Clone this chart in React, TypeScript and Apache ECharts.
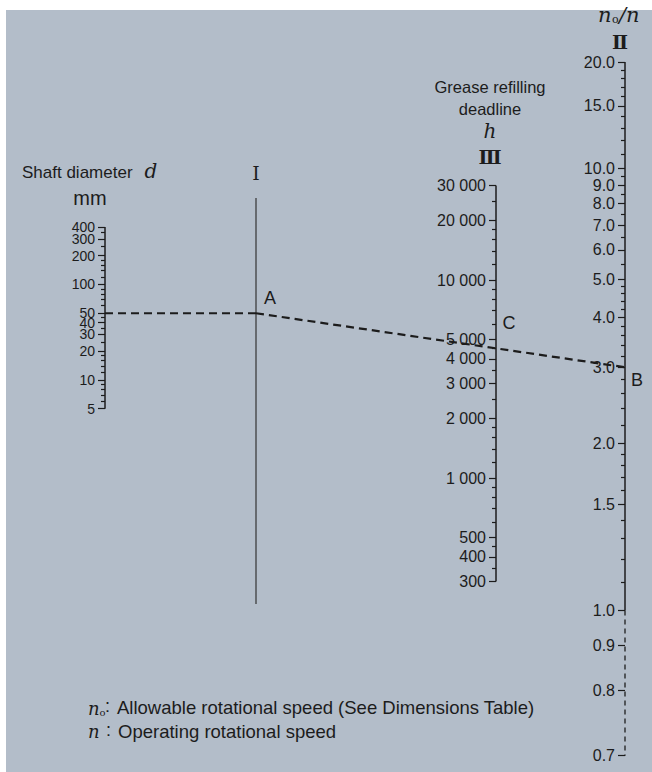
import React, { useEffect, useRef } from "react";
import * as echarts from "echarts";

// ---- data ----
const diameterMajor = [400, 300, 200, 100, 50, 40, 30, 20, 10, 5];
const diameterMinor = [350, 250, 180, 160, 140, 120, 90, 80, 70, 60, 45, 35, 25, 18, 16, 14, 12, 9, 8, 7, 6];
const hoursMajor = [30000, 20000, 10000, 5000, 4000, 3000, 2000, 1000, 500, 400, 300];
const hoursMinor = [25000, 18000, 16000, 14000, 12000, 9000, 8000, 7000, 6000, 4500, 3500, 2500, 1800, 1600, 1400, 1200, 900, 800, 700, 600, 450, 350];
const ratioMajor = [20, 15, 10, 9, 8, 7, 6, 5, 4, 3, 2, 1.5, 1, 0.9, 0.8, 0.7];
const ratioMinor = [19, 18, 17, 16, 14, 13, 12, 11, 9.5, 8.5, 7.5, 6.5, 5.5, 4.8, 4.6, 4.4, 4.2, 3.8, 3.6, 3.4, 3.2, 2.8, 2.6, 2.4, 2.2, 1.9, 1.8, 1.7, 1.6, 1.4, 1.3, 1.2, 1.1];
const ratioSolid = [20, 1];
const ratioDashed = [1, 0.7];
const exampleDiameter = 50;
const exampleRatio = 3.0;

// ---- scale transforms (nomograph scales) ----
const tD = (v: number) => Math.log10(v);
const tH = (v: number) => Math.log10(v);
const tR = (v: number) => Math.log10(v - 0.52);

// ---- layout ----
const GRID_LEFT = 105;
const GRID_TOP = 40;
const GRID_W = 520;
const GRID_H = 720;
const X_D = 0;
const X_I = 151;
const X_H = 391;
const X_R = 520;
const INK = "#1c1c1c";
const SANS = "Liberation Sans, Arial, sans-serif";
const MATH = "DejaVu Serif, Liberation Serif, serif";
const ROMAN = "DejaVu Serif, Liberation Serif, serif";

function range(tRef: number, yRef: number, ppu: number) {
  const max = tRef + (yRef - GRID_TOP) / ppu;
  return { max, min: max - GRID_H / ppu };
}
const rD = range(tD(400), 227, 95.5);
const rH = range(tH(10000), 280, 198);
const rR = range(tR(20), 62, 341);

const fmtThousands = (v: number) => String(v).replace(/\B(?=(\d{3})+(?!\d))/g, " ");
const fmtRatio = (v: number) => v.toFixed(1);

// one scale = major-tick axis, minor-tick axis, and two label axes (alternate labels,
// so that the library's min/max label overlap fix never drops a label)
function scaleAxes(r: { min: number; max: number }, offset: number, majors: number[], minors: number[], t: (v: number) => number, fmt: (v: number) => string, fontSize: number) {
  const base = {
    type: "value",
    gridIndex: 0,
    position: "left",
    offset,
    min: r.min,
    max: r.max,
    axisLine: { show: false },
    splitLine: { show: false },
  };
  const labelAxis = (vals: number[]) => {
    const map = new Map<string, string>();
    vals.forEach((v) => map.set(t(v).toFixed(5), fmt(v)));
    return {
      ...base,
      axisTick: { show: false },
      axisLabel: {
        show: true,
        customValues: vals.map(t),
        hideOverlap: false,
        margin: 10,
        color: INK,
        fontFamily: SANS,
        fontSize,
        lineHeight: Math.round(fontSize * 0.8),
        formatter: (val: number) => map.get(Number(val).toFixed(5)) ?? "",
      },
    };
  };
  return [
    { ...base, axisTick: { show: true, length: 7, customValues: majors.map(t), lineStyle: { color: INK, width: 1.2 } }, axisLabel: { show: false } },
    { ...base, axisTick: { show: true, length: 4, customValues: minors.map(t), lineStyle: { color: INK, width: 1.2 } }, axisLabel: { show: false } },
    labelAxis(majors.filter((_, i) => i % 2 === 0)),
    labelAxis(majors.filter((_, i) => i % 2 === 1)),
  ];
}

function lineSeries(yAxisIndex: number, data: number[][], dashed?: number[] | null, width = 1.5) {
  return {
    type: "line",
    xAxisIndex: 0,
    yAxisIndex,
    data,
    symbol: "none",
    silent: true,
    animation: false,
    lineStyle: { color: INK, width, type: dashed || "solid" },
  };
}

const Y_D = 0;
const Y_H = 4;
const Y_R = 8;

export default function App() {
  const ref = useRef<HTMLDivElement>(null);
  useEffect(() => {
    const chart = echarts.init(ref.current!, null, { renderer: "svg" });
    const baseSeries: any[] = [
      lineSeries(Y_D, [[X_D, tD(diameterMajor[0])], [X_D, tD(diameterMajor[diameterMajor.length - 1])]]),
      lineSeries(Y_H, [[X_H, tH(hoursMajor[0])], [X_H, tH(hoursMajor[hoursMajor.length - 1])]]),
      lineSeries(Y_R, ratioSolid.map((v) => [X_R, tR(v)])),
      lineSeries(Y_R, ratioDashed.map((v) => [X_R, tR(v)]), [5, 4], 1.3),
      lineSeries(Y_D, [[X_D, tD(exampleDiameter)], [X_I, tD(exampleDiameter)]], [8, 5], 2.2),
    ];
    const option: any = {
      animation: false,
      backgroundColor: "transparent",
      grid: { left: GRID_LEFT, top: GRID_TOP, width: GRID_W, height: GRID_H, containLabel: false },
      xAxis: { type: "value", min: 0, max: GRID_W, show: false },
      yAxis: [
        ...scaleAxes(rD, 0, diameterMajor, diameterMinor, tD, fmtThousands, 14),
        ...scaleAxes(rH, -X_H, hoursMajor, hoursMinor, tH, fmtThousands, 16),
        ...scaleAxes(rR, -X_R, ratioMajor, ratioMinor, tR, fmtRatio, 16),
      ],
      series: baseSeries,
    };
    chart.setOption(option);

    const A = chart.convertToPixel({ xAxisIndex: 0, yAxisIndex: Y_D }, [X_I, tD(exampleDiameter)]) as number[];
    const B = chart.convertToPixel({ xAxisIndex: 0, yAxisIndex: Y_R }, [X_R, tR(exampleRatio)]) as number[];
    const aInR = (chart.convertFromPixel({ xAxisIndex: 0, yAxisIndex: Y_R }, A) as number[])[1];
    const hx = (chart.convertToPixel({ xAxisIndex: 0, yAxisIndex: Y_H }, [X_H, tH(1000)]) as number[])[0];
    const cy = A[1] + ((B[1] - A[1]) * (hx - A[0])) / (B[0] - A[0]);
    const ix = A[0];

    const txt = (x: number, y: number, text: string, extra: any = {}) => ({
      type: "text",
      x,
      y,
      silent: true,
      style: { text, fill: INK, font: `15px ${SANS}`, align: "center", verticalAlign: "middle", ...extra },
    });

    chart.setOption({
      series: [
        ...baseSeries,
        lineSeries(Y_R, [[X_I, aInR], [X_R, tR(exampleRatio)]], [8, 5], 2.2),
      ],
      graphic: [
        { type: "line", silent: true, shape: { x1: ix, y1: 198, x2: ix, y2: 604 }, style: { stroke: "#333", lineWidth: 1.2 } },
        txt(ix + 14, A[1] - 15, "A", { font: `18px ${SANS}` }),
        txt(hx + 13, cy - 25, "C", { font: `18px ${SANS}` }),
        txt(B[0] + 12, B[1] + 13, "B", { font: `18px ${SANS}` }),
        txt(22, 172, "Shaft diameter", { align: "left", font: `17px ${SANS}` }),
        txt(151, 171, "d", { font: `italic 20px ${MATH}` }),
        txt(90, 198, "mm", { font: `20px ${SANS}` }),
        txt(ix, 173, "Ⅰ", { font: `19px ${ROMAN}` }),
        txt(490, 87, "Grease refilling", { font: `16.5px ${SANS}` }),
        txt(490, 109, "deadline", { font: `16.5px ${SANS}` }),
        txt(490, 131, "h", { font: `italic 20px ${MATH}` }),
        txt(490, 157, "Ⅲ", { font: `bold 19px ${ROMAN}` }),
        txt(598, 15, "n", { align: "left", font: `italic 21px ${MATH}` }),
        txt(612, 19, "o", { align: "left", font: `11px ${MATH}` }),
        txt(619, 15, "/n", { align: "left", font: `italic 21px ${MATH}` }),
        txt(620, 42, "Ⅱ", { font: `bold 19px ${ROMAN}` }),
        txt(88, 708, "n", { align: "left", font: `italic 18px ${MATH}` }),
        txt(99.5, 712, "o", { align: "left", font: `10px ${MATH}` }),
        txt(105, 706, ":", { align: "left", font: `18px ${SANS}` }),
        txt(117, 707, "Allowable rotational speed (See Dimensions Table)", { align: "left", font: `18.5px ${SANS}` }),
        txt(88, 731, "n", { align: "left", font: `italic 18px ${MATH}` }),
        txt(106, 730, ":", { align: "left", font: `18px ${SANS}` }),
        txt(118, 731, "Operating rotational speed", { align: "left", font: `18.5px ${SANS}` }),
      ],
    });
    return () => chart.dispose();
  }, []);
  return (
    <div style={{ position: "absolute", left: 0, top: 0, width: 652, height: 772, background: "#fff", overflow: "hidden" }}>
      <div style={{ position: "absolute", left: 6, top: 10, width: 646, height: 762, background: "#b3bdc9" }} />
      <div ref={ref} style={{ position: "absolute", left: 0, top: 0, width: 652, height: 772 }} />
    </div>
  );
}
